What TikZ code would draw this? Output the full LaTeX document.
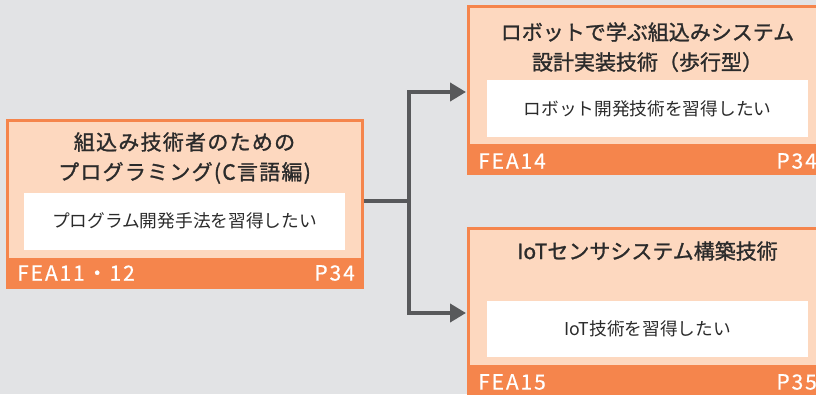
\documentclass[tikz,border=0pt]{standalone}
\usepackage{fontspec}
\newfontfamily\jp{Noto Sans CJK JP}
\newfontfamily\jpm{Noto Sans CJK JP}[FakeBold=1.2]
\newfontfamily\jpf{Noto Sans CJK JP}[FakeBold=0.5]
\usetikzlibrary{arrows.meta}
\definecolor{bgc}{HTML}{E2E3E5}
\definecolor{peach}{HTML}{FDD8BF}
\definecolor{orng}{HTML}{F5854C}
\definecolor{txt}{HTML}{2B2B2B}
\definecolor{conc}{HTML}{58595B}
\tikzset{
  ttl/.style={text=txt,font=\jpm\fontsize{21}{24}\selectfont,inner sep=0pt,anchor=center},
  ttlw/.style={ttl,font=\jpm\fontsize{21}{24}\selectfont\addfontfeature{LetterSpace=6}},
  sub/.style={text=txt,font=\jp\fontsize{17.7}{20}\selectfont,inner sep=0pt,anchor=center},
  ftr/.style={text=white,font=\jpf\fontsize{21}{24}\selectfont\addfontfeature{LetterSpace=9},inner sep=0pt},
  conn/.style={draw=conc,line width=4pt,line join=miter},
  arr/.style={conn,-{Triangle[length=16pt,width=18pt]}}
}
\begin{document}
\begin{tikzpicture}[x=1pt,y=-1pt]
\useasboundingbox (0,0) rectangle (816,394);
\clip (0,0) rectangle (816,394);
\fill[bgc] (0,0) rectangle (816,394);
% left box
\fill[orng] (6,119) rectangle (364,289);
\fill[peach] (9,122) rectangle (361,258);
\fill[white] (24,193) rectangle (345,250);
\node[ttlw] (l1) at (184.5,142) {組込み技術者のための};
\node[ttlw] (l2) at (184.5,173) {プログラミング(C言語編)};
\node[sub] (ls) at (184.5,221) {プログラム開発手法を習得したい};
\node[ftr,anchor=west] (lf) at (17,273) {FEA11・12};
\node[ftr,anchor=east] (lp) at (355,273) {P34};
% top right box
\fill[orng] (467,5) rectangle (830,175);
\fill[peach] (470,8) rectangle (827,144);
\fill[white] (487,80) rectangle (808,137);
\node[ttl] (t1) at (647.5,32) {ロボットで学ぶ組込みシステム};
\node[ttl] (t2) at (647.5,62) {設計実装技術（歩行型）};
\node[sub] (ts) at (647.5,109) {ロボット開発技術を習得したい};
\node[ftr,anchor=west] (tf) at (478,161) {FEA14};
\node[ftr,anchor=east] (tp) at (817,161) {P34};
% bottom right box
\fill[orng] (467,227) rectangle (830,400);
\fill[peach] (470,230) rectangle (827,365);
\fill[white] (487,301) rectangle (808,357);
\node[ttl] (b1) at (647.5,251) {IoTセンサシステム構築技術};
\node[sub] (bs) at (647.5,329) {IoT技術を習得したい};
\node[ftr,anchor=west] (bf) at (478,382) {FEA15};
\node[ftr,anchor=east] (bp) at (817,382) {P35};
% connectors
\coordinate (lout) at (364,201);
\coordinate (j) at (409,201);
\coordinate (tin) at (466,92);
\coordinate (bin) at (466,313);
\draw[conn] (lout) -- (j);
\draw[arr] (j) |- (tin);
\draw[arr] (j) |- (bin);
\end{tikzpicture}
\end{document}
